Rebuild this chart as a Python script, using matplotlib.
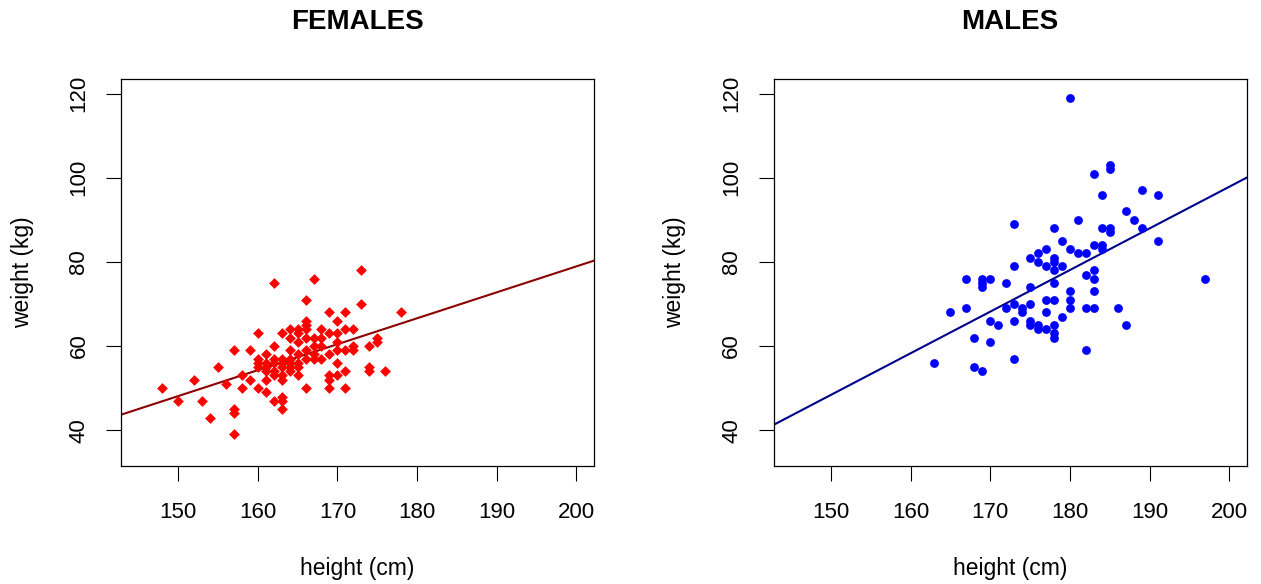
import numpy as np
import matplotlib
matplotlib.use("Agg")
import matplotlib.pyplot as plt

plt.rcParams["font.family"] = ["Liberation Sans", "DejaVu Sans"]

# Daten - Frauen
f_height = [148, 150, 152, 153, 154, 155, 156,
            157, 157, 157, 157, 158, 158, 159, 159,
            160, 160, 160, 160, 160,
            161, 161, 161, 161, 161, 161,
            162, 162, 162, 162, 162, 162, 162,
            163, 163, 163, 163, 163, 163, 163, 163, 163,
            164, 164, 164, 164, 164, 164, 164,
            165, 165, 165, 165, 165, 165, 165,
            166, 166, 166, 166, 166, 166, 166, 166,
            167, 167, 167, 167, 167,
            168, 168, 168, 168,
            169, 169, 169, 169, 169, 169,
            170, 170, 170, 170, 170, 170,
            171, 171, 171, 171, 171,
            172, 172, 172,
            173, 173,
            174, 174, 174,
            175, 175,
            176, 178]
f_weight = [50, 47, 52, 47, 43, 55, 51,
            59, 45, 44, 39, 53, 50, 59, 52,
            63, 57, 56, 55, 50,
            58, 56, 55, 54, 52, 49,
            75, 60, 57, 56, 54, 53, 47,
            63, 57, 56, 55, 53, 52, 48, 47, 45,
            64, 62, 59, 57, 56, 55, 54,
            64, 63, 61, 58, 56, 55, 53,
            71, 66, 65, 64, 62, 59, 57, 50,
            76, 62, 60, 58, 57,
            64, 62, 60, 57,
            68, 63, 58, 53, 52, 50,
            66, 63, 61, 59, 56, 53,
            68, 64, 59, 54, 50,
            64, 60, 59,
            78, 70,
            60, 55, 54,
            62, 61,
            54, 68]

# Daten - Männer
m_height = [180, 185, 185, 183, 189, 191, 184, 187, 188, 181,
            173, 178, 184, 185, 185, 189, 179, 191, 183, 184,
            184, 180, 177, 181, 182, 176, 175, 176, 178, 178,
            173, 177, 179, 178, 183, 182, 183, 197, 167, 169,
            169, 169, 170, 172, 178, 175, 180, 183, 177, 178,
            180, 173, 175, 167, 172, 174, 174, 180, 182, 183,
            186, 165, 177, 179, 170, 173, 175, 175, 171, 176,
            176, 178, 187, 177, 178, 178, 168, 170, 182, 163,
            173, 168, 169]
m_weight = [119, 103, 102, 101, 97, 96, 96, 92, 90, 90,
            89, 88, 88, 88, 87, 88, 85, 85, 84, 84,
            83, 83, 83, 82, 82, 82, 81, 80, 81, 80,
            79, 79, 79, 78, 78, 77, 76, 76, 76, 76,
            75, 74, 76, 75, 75, 74, 73, 73, 71, 71,
            71, 70, 70, 69, 69, 69, 68, 69, 69, 69,
            69, 68, 68, 67, 66, 66, 66, 65, 65, 65,
            64, 65, 65, 64, 63, 62, 62, 61, 59, 56,
            57, 55, 54]

panels = [("FEMALES", f_height, f_weight, "#FF0000", "D", 30, "#8B0000"),
          ("MALES", m_height, m_weight, "#0000FF", "o", 40, "#00008B")]

fig = plt.figure(figsize=(12.61, 5.84), dpi=100)
lefts = [120.7 / 1261, 773.5 / 1261]
w = (594 - 120.7) / 1261
b = 1 - 465.5 / 584
h = (465.5 - 79.3) / 584

for (title, hx, wy, col, mk, s, lcol), l in zip(panels, lefts):
    ax = fig.add_axes([l, b, w, h])
    ax.scatter(hx, wy, c=col, marker=mk, s=s, linewidths=0, zorder=3)
    # Regressionsgerade
    k, d = np.polyfit(hx, wy, 1)
    xl = np.array([142.8, 202.2])
    ax.plot(xl, d + k * xl, color=lcol, lw=1.5, zorder=2)
    ax.set_xlim(142.8, 202.2)
    ax.set_ylim(31.6, 123.4)
    ax.set_xticks(range(150, 201, 10))
    ax.set_yticks(range(40, 121, 20))
    ax.tick_params(axis="x", length=10.5, width=0.8, pad=16, labelsize=16)
    ax.tick_params(axis="y", length=10.5, width=0.8, pad=12, labelsize=16,
                   labelrotation=90)
    for t in ax.get_yticklabels():
        t.set_va("center")
    for sp in ax.spines.values():
        sp.set_linewidth(0.9)
    ax.set_xlabel("height (cm)", fontsize=16.5, labelpad=24)
    ax.set_ylabel("weight (kg)", fontsize=16.5, labelpad=25)
    ax.set_title(title, fontsize=20, fontweight="bold", pad=36)

fig.savefig("out.png", dpi=100)
